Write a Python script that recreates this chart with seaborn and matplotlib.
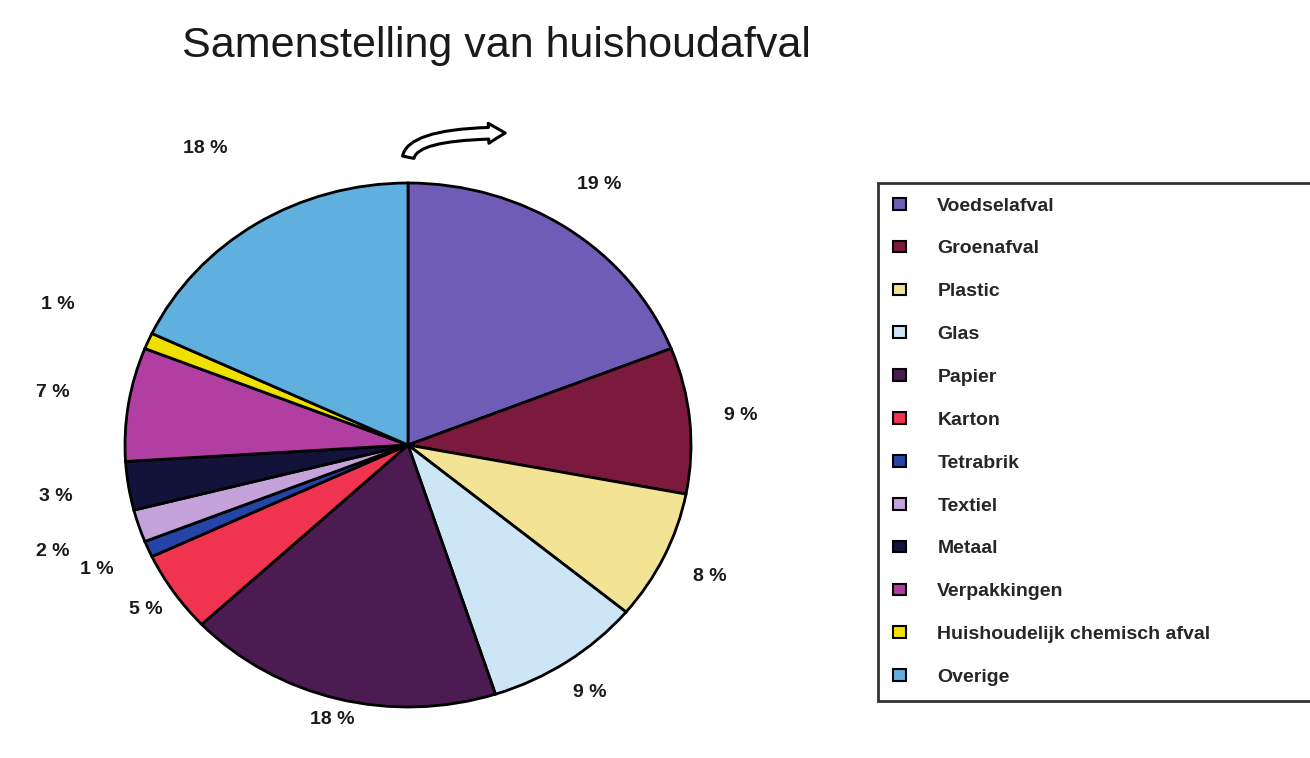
"""
Samenstelling van huishoudafval — taartdiagram met legenda rechts.
"""
import numpy as np
import matplotlib
matplotlib.use("Agg")
import matplotlib.pyplot as plt
from matplotlib.patches import Patch
import seaborn as sns

CATEGORIES = [
    "Voedselafval", "Groenafval", "Plastic", "Glas", "Papier", "Karton",
    "Tetrabrik", "Textiel", "Metaal", "Verpakkingen",
    "Huishoudelijk chemisch afval", "Overige",
]
PERCENT = [19, 9, 8, 9, 18, 5, 1, 2, 3, 7, 1, 18]
COLORS = [
    "#6f5cb6", "#7b1a3c", "#f2e494", "#cde6f6", "#4b1b52", "#f0344f",
    "#2444a8", "#c3a3d9", "#12123a", "#b13fa2", "#f0e000", "#5fb0df",
]
# afstand van elk percentage-label tot het middelpunt (in straal-eenheden)
LABEL_DIST = [1.2, 1.18, 1.18, 1.14, 1.08, 1.12, 1.2, 1.32, 1.26, 1.27, 1.35, 1.34]

sns.set_theme(style="white")
plt.rcParams["font.family"] = ["Liberation Sans", "DejaVu Sans"]

W, H = 1310, 758
fig = plt.figure(figsize=(W / 100, H / 100), dpi=100)
fig.patch.set_facecolor("white")

# ── taart: middelpunt (408, 445) px, stralen 283 x 262 px ────────────────
cx, cy, rx, ry = 408, 445, 283, 262
ax = fig.add_axes([(cx - rx) / W, (H - cy - ry) / H, 2 * rx / W, 2 * ry / H])
palette = sns.color_palette(COLORS)
wedges, _ = ax.pie(
    PERCENT, colors=palette, startangle=90, counterclock=False,
    wedgeprops=dict(edgecolor="black", linewidth=2),
)
ax.set_aspect("auto")
ax.set_xlim(-1, 1)
ax.set_ylim(-1, 1)
ax.axis("off")

for w, pct, d in zip(wedges, PERCENT, LABEL_DIST):
    ang = np.deg2rad((w.theta1 + w.theta2) / 2)
    ax.text(d * np.cos(ang), d * np.sin(ang), f"{pct} %",
            ha="center", va="center", fontsize=14, fontweight="bold",
            color="#1a1a1a", clip_on=False)

fig.text(496 / W, 1 - 46 / H, "Samenstelling van huishoudafval",
         ha="center", va="center", fontsize=31, color="#1a1a1a")

# gebogen pijl boven de taart
ax.annotate(
    "", xy=(508 / W, 1 - 133 / H), xytext=(408 / W, 1 - 160 / H),
    xycoords="figure fraction", textcoords="figure fraction",
    arrowprops=dict(
        arrowstyle="simple,head_length=1.0,head_width=1.2,tail_width=0.7",
        connectionstyle="angle3,angleA=90,angleB=0",
        fc="white", ec="black", lw=2.2,
    ),
)

# ── legenda ──────────────────────────────────────────────────────────────
handles = [Patch(facecolor=c, edgecolor="black", linewidth=1.5) for c in palette]
leg = fig.legend(
    handles, CATEGORIES,
    loc="upper left", bbox_to_anchor=(878 / W, 1 - 706 / H, 0.4, 523 / H),
    mode="expand", fancybox=False, frameon=True, borderaxespad=0,
    handlelength=0.7, handleheight=0.55, handletextpad=1.6,
    labelspacing=1.33, borderpad=0.75,
    prop=dict(family=["Liberation Sans", "DejaVu Sans"], weight="bold", size=14),
)
leg.get_frame().set_edgecolor("black")
leg.get_frame().set_linewidth(2)

fig.savefig("out.png", dpi=100, facecolor="white")
plt.close(fig)
